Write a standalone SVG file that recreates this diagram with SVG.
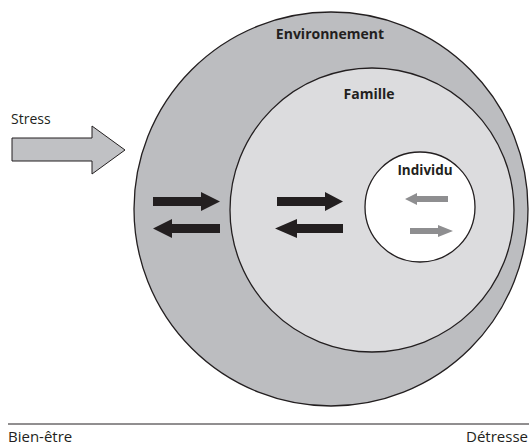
<svg xmlns="http://www.w3.org/2000/svg" width="529" height="446" viewBox="0 0 529 446">
<style>
  .lbl { font-family: "Open Sans", "Noto Sans", "Liberation Sans", sans-serif; fill: #231f20; }
  .b { font-weight: bold; font-size: 14px; }
  .n { font-size: 14px; }
  .ax { font-size: 15px; }
  .ring { stroke: #231f20; stroke-width: 1.3; }
  .blk { fill: #231f20; }
  .gry { fill: #8e8e90; }
</style>
<rect width="529" height="446" fill="#ffffff"/>
<g id="environnement">
  <circle class="ring" cx="331" cy="209" r="197" fill="#bcbdc0"/>
  <text class="lbl b" x="330" y="39" text-anchor="middle">Environnement</text>
</g>
<g id="famille">
  <circle class="ring" cx="372" cy="210" r="142" fill="#dcdcde"/>
  <text class="lbl b" x="369" y="99" text-anchor="middle">Famille</text>
</g>
<g id="individu">
  <circle class="ring" cx="420" cy="207" r="55" fill="#ffffff"/>
  <text class="lbl b" x="425" y="175" text-anchor="middle" style="font-size:13.5px">Individu</text>
</g>
<g id="stress">
  <text class="lbl n" x="11" y="124">Stress</text>
  <polygon points="12,138 92,138 92,126 125,150 92,174 92,161 12,161" fill="#c0c1c4" stroke="#231f20" stroke-width="1"/>
</g>
<g id="connectors">
  <polygon class="blk" points="153,197 201,197 201,192 220,201.5 201,211 201,206 153,206"/>
  <polygon class="blk" points="220,224 172,224 172,219 153,228.5 172,238 172,233 220,233"/>
  <polygon class="blk" points="277,197 325,197 325,192 343,201.5 325,211 325,206 277,206"/>
  <polygon class="blk" points="343,224 297,224 297,219 275,228.5 297,238 297,233 343,233"/>
  <polygon class="gry" points="448,196 417,196 417,193 405,199 417,205 417,202 448,202"/>
  <polygon class="gry" points="410,228 438,228 438,225 453,231 438,237 438,234 410,234"/>
</g>
<g id="axe">
  <line x1="8" y1="424" x2="529" y2="424" stroke="#231f20" stroke-width="1"/>
  <text class="lbl ax" x="8" y="442">Bien-être</text>
  <text class="lbl ax" x="528" y="442" text-anchor="end">Détresse</text>
</g>
</svg>
